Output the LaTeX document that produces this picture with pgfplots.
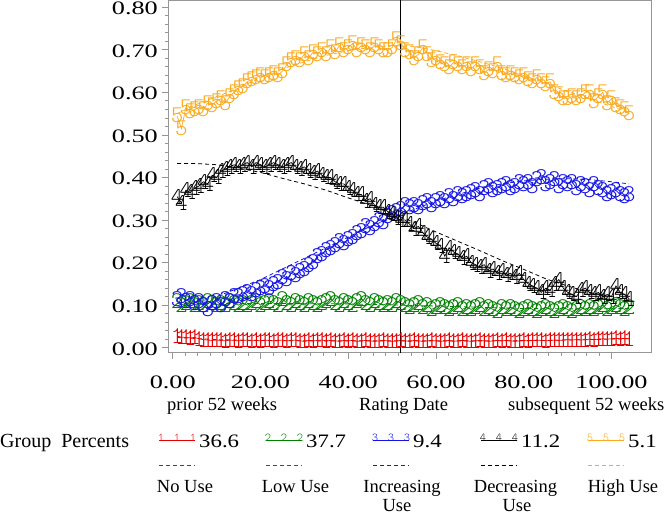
\documentclass[border=0pt]{standalone}
\usepackage{fontspec}
\setmainfont{Liberation Serif}
\newfontfamily\tickfont[FakeStretch=1.38]{Liberation Serif}
\newfontfamily\pctfont[FakeStretch=1.2]{Liberation Serif}
\usepackage{pgfplots}
\pgfplotsset{compat=1.18}
\definecolor{cred}{RGB}{230,0,0}
\definecolor{cgreen}{RGB}{0,128,0}
\definecolor{cblue}{RGB}{20,20,230}
\definecolor{corange}{RGB}{250,170,30}
\definecolor{axgray}{RGB}{150,150,150}
\newcommand{\txt}{\fontsize{18.5bp}{22bp}\selectfont}
\newcommand{\tkf}{\tickfont\fontsize{19bp}{22bp}\selectfont}
\newcommand{\pcf}{\pctfont\fontsize{19bp}{22bp}\selectfont}
\newcommand{\mk}{\fontsize{24bp}{24bp}\ttfamily\fontseries{l}\selectfont}
\newcommand{\lmk}{\fontsize{12bp}{12bp}\ttfamily\fontseries{l}\selectfont}
\pgfplotsset{obs/.style={line width=0.7bp, mark=text, text mark={#1}, text mark as node=true,
  text mark style={font=\mk, inner sep=0pt, anchor=center}},
  pred/.style={line width=0.8bp, dash pattern=on 4bp off 3bp, mark=none}}
\begin{document}
\begin{tikzpicture}[x=1bp,y=1bp,font=\txt]
\useasboundingbox (0,0) rectangle (664,515);
\begin{axis}[
  at={(168bp,162.3bp)}, anchor=south west,
  width=483bp, height=352.2bp, scale only axis,
  xmin=-1.07, xmax=109, ymin=-0.01175, ymax=0.816,
  xtick={0,20,40,60,80,100}, ytick={0,0.1,0.2,0.3,0.4,0.5,0.6,0.7,0.8},
  minor x tick num=6, minor y tick num=4,
  xtick pos=bottom, ytick pos=left,
  tick align=outside, major tick length=6bp, minor tick length=3.5bp,
  axis line style={axgray, line width=0.8bp},
  every tick/.style={axgray, line width=0.8bp},
  tick label style={font=\tkf, black},
  xticklabel style={anchor=north, inner sep=0pt, yshift=-16.5bp},
  yticklabel style={anchor=east, inner sep=0pt, xshift=-4bp, yshift=-1.2bp},
  /pgf/number format/.cd, fixed, fixed zerofill, precision=2, assume math mode=true,
]
% predicted
\addplot[pred, cred] coordinates {(1,.024)(10,.019)(20,.017)(30,.016)(52,.016)(70,.016)(85,.017)(95,.019)(104,.021)};
\addplot[pred, cgreen] coordinates {(1,.104)(20,.104)(40,.103)(60,.098)(80,.092)(95,.091)(104,.092)};
\addplot[pred, cblue] coordinates {(1,.095)(5,.105)(10,.12)(15,.14)(20,.16)(25,.185)(30,.21)(35,.235)(40,.26)(45,.285)(50,.305)(55,.325)(60,.345)(65,.36)(70,.375)(75,.385)(80,.392)(85,.396)(90,.397)(95,.395)(100,.39)(104,.385)};
\addplot[pred, black] coordinates {(1,.433)(5,.433)(10,.43)(15,.422)(20,.412)(25,.398)(30,.385)(35,.37)(40,.352)(45,.335)(50,.315)(55,.295)(60,.272)(65,.25)(70,.228)(75,.205)(80,.184)(85,.162)(90,.145)(95,.13)(100,.12)(104,.115)};
\addplot[pred, corange] coordinates {(1,.55)(5,.57)(10,.59)(15,.61)(20,.635)(25,.655)(30,.672)(35,.687)(40,.698)(45,.706)(50,.71)(55,.708)(60,.698)(65,.686)(70,.672)(75,.657)(80,.64)(85,.622)(90,.602)(95,.585)(100,.567)(104,.552)};
% observed
\addplot[obs=1, cred] coordinates {(1,.027)(2,.025)(3,.024)(4,.023)(5,.024)(6,.021)(7,.019)(8,.018)(9,.017)(10,.018)(11,.017)(12,.016)(13,.018)(14,.017)(15,.016)(16,.017)(17,.018)(18,.016)(19,.017)(20,.016)(21,.018)(22,.017)(23,.016)(24,.017)(25,.018)(26,.016)(27,.017)(28,.018)(29,.016)(30,.015)(31,.017)(32,.016)(33,.017)(34,.018)(35,.016)(36,.017)(37,.016)(38,.015)(39,.017)(40,.016)(41,.017)(42,.015)(43,.016)(44,.017)(45,.016)(46,.015)(47,.016)(48,.017)(49,.016)(50,.015)(51,.016)(52,.017)(53,.016)(54,.015)(55,.017)(56,.016)(57,.015)(58,.016)(59,.017)(60,.016)(61,.015)(62,.016)(63,.017)(64,.015)(65,.016)(66,.017)(67,.016)(68,.015)(69,.016)(70,.017)(71,.016)(72,.015)(73,.016)(74,.017)(75,.016)(76,.017)(77,.016)(78,.015)(79,.016)(80,.017)(81,.016)(82,.017)(83,.018)(84,.017)(85,.016)(86,.017)(87,.018)(88,.017)(89,.018)(90,.019)(91,.018)(92,.019)(93,.018)(94,.019)(95,.020)(96,.019)(97,.020)(98,.021)(99,.020)(100,.021)(101,.022)(102,.021)(103,.022)(104,.021)};
\addplot[obs=2, cgreen] coordinates {(1,.11)(2,.10)(3,.105)(4,.11)(5,.10)(6,.105)(7,.10)(8,.11)(9,.105)(10,.10)(11,.105)(12,.10)(13,.11)(14,.105)(15,.10)(16,.105)(17,.10)(18,.105)(19,.11)(20,.10)(21,.105)(22,.11)(23,.105)(24,.10)(25,.115)(26,.105)(27,.10)(28,.11)(29,.105)(30,.10)(31,.11)(32,.105)(33,.10)(34,.105)(35,.11)(36,.115)(37,.105)(38,.10)(39,.11)(40,.105)(41,.10)(42,.11)(43,.115)(44,.105)(45,.10)(46,.11)(47,.105)(48,.10)(49,.105)(50,.10)(51,.11)(52,.105)(53,.10)(54,.095)(55,.10)(56,.105)(57,.095)(58,.10)(59,.09)(60,.095)(61,.10)(62,.095)(63,.09)(64,.095)(65,.10)(66,.09)(67,.095)(68,.09)(69,.095)(70,.10)(71,.09)(72,.095)(73,.09)(74,.085)(75,.095)(76,.09)(77,.095)(78,.09)(79,.085)(80,.09)(81,.095)(82,.09)(83,.085)(84,.09)(85,.095)(86,.09)(87,.085)(88,.09)(89,.095)(90,.09)(91,.085)(92,.09)(93,.095)(94,.09)(95,.095)(96,.09)(97,.095)(98,.10)(99,.09)(100,.095)(101,.10)(102,.095)(103,.09)(104,.095)};
\addplot[obs=3, cblue] coordinates {(1,.115)(2,.12)(3,.11)(4,.115)(5,.105)(6,.11)(7,.10)(8,.09)(9,.105)(10,.11)(11,.10)(12,.115)(13,.11)(14,.12)(15,.12)(16,.125)(17,.13)(18,.125)(19,.135)(20,.14)(21,.145)(22,.14)(23,.15)(24,.155)(25,.165)(26,.16)(27,.175)(28,.17)(29,.18)(30,.185)(31,.195)(32,.20)(33,.215)(34,.22)(35,.23)(36,.235)(37,.24)(38,.25)(39,.245)(40,.255)(41,.26)(42,.27)(43,.275)(44,.285)(45,.28)(46,.29)(47,.30)(48,.295)(49,.31)(50,.315)(51,.32)(52,.325)(53,.335)(54,.33)(55,.335)(56,.33)(57,.34)(58,.345)(59,.335)(60,.345)(61,.35)(62,.345)(63,.355)(64,.35)(65,.36)(66,.355)(67,.36)(68,.365)(69,.37)(70,.36)(71,.375)(72,.38)(73,.37)(74,.375)(75,.38)(76,.385)(77,.375)(78,.38)(79,.39)(80,.385)(81,.39)(82,.38)(83,.395)(84,.40)(85,.385)(86,.39)(87,.395)(88,.38)(89,.39)(90,.385)(91,.39)(92,.375)(93,.385)(94,.38)(95,.37)(96,.385)(97,.375)(98,.37)(99,.36)(100,.365)(101,.37)(102,.36)(103,.355)(104,.36)};
\addplot[obs=4, black] coordinates {(1,.355)(2,.34)(3,.37)(4,.365)(5,.375)(6,.38)(7,.39)(8,.385)(9,.405)(10,.40)(11,.415)(12,.42)(13,.425)(14,.43)(15,.425)(16,.43)(17,.435)(18,.425)(19,.435)(20,.43)(21,.425)(22,.43)(23,.435)(24,.43)(25,.425)(26,.43)(27,.435)(28,.425)(29,.42)(30,.425)(31,.415)(32,.41)(33,.415)(34,.405)(35,.40)(36,.40)(37,.39)(38,.385)(39,.385)(40,.375)(41,.37)(42,.36)(43,.36)(44,.345)(45,.35)(46,.335)(47,.33)(48,.33)(49,.32)(50,.315)(51,.305)(52,.30)(53,.30)(54,.29)(55,.28)(56,.285)(57,.27)(58,.26)(59,.255)(60,.245)(61,.24)(62,.215)(63,.235)(64,.225)(65,.22)(66,.21)(67,.215)(68,.20)(69,.195)(70,.19)(71,.195)(72,.18)(73,.185)(74,.175)(75,.18)(76,.17)(77,.175)(78,.165)(79,.175)(80,.16)(81,.15)(82,.145)(83,.14)(84,.13)(85,.14)(86,.135)(87,.15)(88,.16)(89,.14)(90,.13)(91,.125)(92,.12)(93,.135)(94,.14)(95,.13)(96,.125)(97,.13)(98,.12)(99,.125)(100,.12)(101,.145)(102,.13)(103,.125)(104,.115)};
\addplot[obs=5, corange] coordinates {(1,.545)(2,.515)(3,.565)(4,.555)(5,.56)(6,.565)(7,.56)(8,.575)(9,.57)(10,.58)(11,.585)(12,.575)(13,.59)(14,.60)(15,.61)(16,.615)(17,.625)(18,.63)(19,.635)(20,.64)(21,.635)(22,.64)(23,.645)(24,.64)(25,.65)(26,.665)(27,.675)(28,.68)(29,.675)(30,.69)(31,.68)(32,.695)(33,.69)(34,.70)(35,.69)(36,.705)(37,.695)(38,.71)(39,.70)(40,.705)(41,.715)(42,.70)(43,.71)(44,.705)(45,.70)(46,.71)(47,.705)(48,.70)(49,.70)(50,.705)(51,.725)(52,.715)(53,.70)(54,.695)(55,.68)(56,.69)(57,.705)(58,.69)(59,.675)(60,.68)(61,.67)(62,.665)(63,.66)(64,.67)(65,.665)(66,.66)(67,.665)(68,.655)(69,.665)(70,.66)(71,.645)(72,.655)(73,.65)(74,.665)(75,.645)(76,.64)(77,.645)(78,.64)(79,.635)(80,.64)(81,.63)(82,.625)(83,.635)(84,.625)(85,.62)(86,.625)(87,.60)(88,.595)(89,.585)(90,.585)(91,.59)(92,.585)(93,.59)(94,.60)(95,.60)(96,.58)(97,.59)(98,.60)(99,.575)(100,.585)(101,.57)(102,.565)(103,.56)(104,.55)};
% rating date reference line
\addplot[black, line width=0.9bp, mark=none] coordinates {(52,-0.02) (52,0.83)};
\end{axis}
% x-axis sub labels
\node[anchor=base west, inner sep=0] at (167,104) {prior 52 weeks};
\node[anchor=base west, inner sep=0] at (359,104) {Rating Date};
\node[anchor=base west, inner sep=0] at (508,104) {subsequent 52 weeks};
% legend
\node[anchor=base west, inner sep=0, font=\fontsize{20bp}{22bp}\selectfont] at (0,67) {Group\hspace{0.5em}Percents};
\foreach \xl/\col/\d/\p/\lab/\lc in {159/cred/1/36.6/No Use/185, 266/cgreen/2/37.7/Low Use/295.5, 373/cblue/3/9.4/Increasing/402, 481/black/4/11.2/Decreasing/515.5, 588/corange/5/5.1/High Use/623}{
  \draw[\col, line width=0.8bp] (\xl,75) -- (\xl+36,75);
  \foreach \dx in {2,18,34} {\node[\col, inner sep=0, anchor=south, font=\lmk] at (\xl+\dx,73) {\d};}
  \node[anchor=base west, inner sep=0, font=\pcf] at (\xl+40,67) {\p};
  \draw[\col, line width=0.8bp, dash pattern=on 4bp off 3bp] (\xl,50) -- (\xl+36,50);
  \node[anchor=base, inner sep=0] at (\lc,22) {\lab};
}
\node[anchor=base, inner sep=0] at (397,3) {Use};
\node[anchor=base, inner sep=0] at (517,3) {Use};
\end{tikzpicture}
\end{document}
